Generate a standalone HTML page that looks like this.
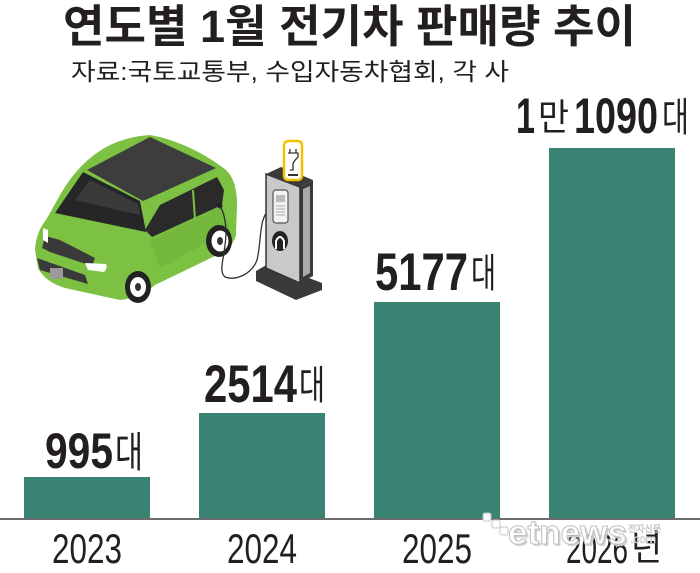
<!DOCTYPE html>
<html><head><meta charset="utf-8"><style>
html,body{margin:0;padding:0;background:#fff;}
svg{display:block;}
</style></head><body>
<svg width="700" height="573" viewBox="0 0 700 573" xmlns="http://www.w3.org/2000/svg">
<rect width="700" height="573" fill="#fff"/>
<!-- Title -->
<text x="63" y="42" font-family="'Liberation Sans','Noto Sans CJK KR',sans-serif" font-weight="bold" font-size="45" fill="#231f20" textLength="573" lengthAdjust="spacingAndGlyphs">연도별 1월 전기차 판매량 추이</text>
<text x="71" y="80" font-family="'Liberation Sans','Noto Sans CJK KR',sans-serif" font-size="24" fill="#231f20" textLength="438" lengthAdjust="spacingAndGlyphs">자료:국토교통부, 수입자동차협회, 각 사</text>

<!-- Car -->
<g>
<path d="M150 135 C180 140 210 157 226 170 Q237 180 237 205 L236 235 Q232 250 215 256 L155 285 Q140 298 120 300 L65 288 Q45 282 38 268 L35 250 Q36 232 46 220 L60 195 Q80 160 110 145 Q130 136 150 135 Z" fill="#7cc142"/>
<path d="M150 240 L222 205 L230 230 L160 268 Z" fill="#6fb23a" opacity="0.6"/>
<polygon points="87,170 150,137 216,168 143,201" fill="#3d3d3d"/>
<polygon points="83,172 140,201 146,232 55,213" fill="#262626"/>
<polygon points="90,180 138,204 140,215 75,200" fill="#3a3a3a"/>
<polygon points="145,230 160,205 217,177 224,190 222,205 152,237" fill="#2a2a2a"/>
<line x1="193" y1="190" x2="195" y2="220" stroke="#7cc142" stroke-width="2"/>
<polygon points="45,236 60,240 95,258 92,266 50,252 42,248" fill="#3a3a3a"/>
<polygon points="37,258 85,275 88,284 40,270" fill="#3a3a3a"/>
<path d="M43 228 L48 230 L48 243 L43 240 Z" fill="#fff"/>
<path d="M85 263 L106 264 Q108 268 104 272 L88 270 Z" fill="#fff"/>
<rect x="50" y="268" width="13" height="11" fill="#9a9a9a"/>
<ellipse cx="138" cy="287" rx="13" ry="16" fill="#222"/>
<ellipse cx="138" cy="287" rx="8" ry="10" fill="#fff"/>
<ellipse cx="138" cy="287" rx="3" ry="4" fill="#333"/>
<ellipse cx="219" cy="241" rx="13" ry="16" fill="#222"/>
<ellipse cx="220" cy="241" rx="8.5" ry="10.5" fill="#fff"/>
<ellipse cx="220" cy="241" rx="3" ry="4" fill="#333"/>
<circle cx="220" cy="206" r="2.5" fill="#222"/>
</g>
<!-- Cable -->
<path d="M220 206 C226 216 227 232 225 245 C223 262 219 272 225 277 C236 281 252 274 257 260 C262 240 258 215 272 208" fill="none" stroke="#333" stroke-width="1.3"/>
<!-- Charger -->
<g>
<polygon points="256,271 270,263 322,283 322,290 296,300 256,281" fill="#3a3a3a"/>
<polygon points="300,187 313,180 313,276 300,283" fill="#3a3a3a"/>
<polygon points="303,189 310,186 310,273 303,277" fill="#a9a9a9"/>
<polygon points="266,174 300,187 300,283 266,268" fill="#c9c9c9" stroke="#333" stroke-width="1.5"/>
<polygon points="266,174 281,167 313,180 300,187" fill="#3a3a3a"/>
<rect x="284" y="141" width="18" height="39" rx="4" fill="#fff" stroke="#f2c200" stroke-width="2.5"/>
<path d="M290 149 L290 153 M296 149 L296 153 M288 153 L298 153 L298 157 Q293 162 293 164 L293 170 L290 170" fill="none" stroke="#333" stroke-width="1.3"/>
<rect x="288" y="174" width="10" height="2" fill="#333"/>
<rect x="273" y="190" width="15" height="33" rx="3" fill="#f2f2f2" stroke="#555" stroke-width="1.2"/>
<rect x="276" y="195" width="9" height="7" fill="#bbb"/>
<line x1="276" y1="206" x2="285" y2="206" stroke="#aaa"/>
<line x1="276" y1="209" x2="285" y2="209" stroke="#aaa"/>
<line x1="276" y1="212" x2="285" y2="212" stroke="#aaa"/>
<line x1="276" y1="215" x2="285" y2="215" stroke="#aaa"/>
<ellipse cx="280" cy="241" rx="8" ry="10" fill="#222"/>
<path d="M276 249 L276 241 Q280 233 284 241 L284 249" fill="none" stroke="#fff" stroke-width="2"/>
</g>

<!-- Bars -->
<g fill="#3a8373">
<rect x="24" y="477" width="126" height="42"/>
<rect x="199" y="413" width="126" height="106"/>
<rect x="374" y="302" width="126" height="217"/>
<rect x="549" y="148" width="126" height="371"/>
</g>
<rect x="0" y="518" width="700" height="2" fill="#6d6d6d"/>

<!-- Value labels -->
<g font-family="'Liberation Sans','Noto Sans CJK KR',sans-serif" fill="#231f20">
<text x="45" y="468" font-size="50" font-weight="bold" textLength="68" lengthAdjust="spacingAndGlyphs">995</text>
<text x="115" y="467" font-size="42" textLength="28" lengthAdjust="spacingAndGlyphs">대</text>
<text x="204" y="402" font-size="53" font-weight="bold" textLength="93" lengthAdjust="spacingAndGlyphs">2514</text>
<text x="299" y="399" font-size="40" textLength="26" lengthAdjust="spacingAndGlyphs">대</text>
<text x="375" y="290" font-size="53" font-weight="bold" textLength="93" lengthAdjust="spacingAndGlyphs">5177</text>
<text x="471" y="287" font-size="40" textLength="25" lengthAdjust="spacingAndGlyphs">대</text>
<text x="516" y="133" font-size="50" font-weight="bold" textLength="19" lengthAdjust="spacingAndGlyphs">1</text>
<text x="538" y="130" font-size="37" textLength="31" lengthAdjust="spacingAndGlyphs">만</text>
<text x="574" y="133" font-size="50" font-weight="bold" textLength="84" lengthAdjust="spacingAndGlyphs">1090</text>
<text x="662" y="131" font-size="40" textLength="27" lengthAdjust="spacingAndGlyphs">대</text>
</g>

<!-- Year labels -->
<g font-family="'Liberation Sans','Noto Sans CJK KR',sans-serif" fill="#231f20" font-size="42">
<text x="52" y="563" textLength="70" lengthAdjust="spacingAndGlyphs">2023</text>
<text x="227" y="563" textLength="70" lengthAdjust="spacingAndGlyphs">2024</text>
<text x="402" y="563" textLength="70" lengthAdjust="spacingAndGlyphs">2025</text>
<text x="566" y="563" textLength="62" lengthAdjust="spacingAndGlyphs">2026</text>
<text x="631" y="560" font-size="36" textLength="31" lengthAdjust="spacingAndGlyphs">년</text>
</g>

<!-- Watermark -->
<g opacity="0.95">
<rect x="483" y="513" width="8" height="8" rx="2" fill="#fff" stroke="#c4c4c4"/>
<rect x="492" y="520" width="8" height="8" rx="2" fill="#fff" stroke="#c4c4c4"/>
<rect x="500" y="527" width="8" height="8" rx="2" fill="#fff" stroke="#c4c4c4"/>
<text x="510" y="546" font-family="'Liberation Sans',sans-serif" font-weight="bold" font-size="34" fill="#d0d0d0" textLength="119" lengthAdjust="spacingAndGlyphs">etnews</text>
<text x="508" y="544" font-family="'Liberation Sans',sans-serif" font-weight="bold" font-size="34" fill="#fff" stroke="#bdbdbd" stroke-width="1" textLength="119" lengthAdjust="spacingAndGlyphs">etnews</text>
<text x="628" y="532" font-family="'Liberation Sans','Noto Sans CJK KR',sans-serif" font-size="9" fill="#fff" stroke="#bdbdbd" stroke-width="0.5">전자신문</text>
<text x="630" y="543" font-family="'Liberation Sans',sans-serif" font-size="12" fill="#fff" stroke="#bdbdbd" stroke-width="0.6">.com</text>
</g>
</svg>
</body></html>
